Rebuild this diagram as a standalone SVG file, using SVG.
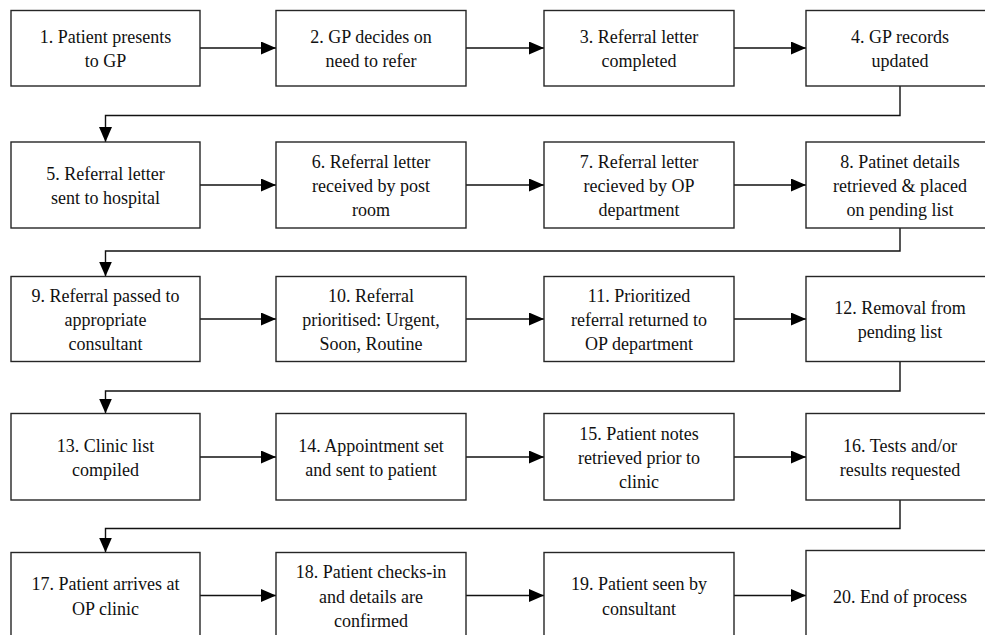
<svg xmlns="http://www.w3.org/2000/svg" width="985" height="635" viewBox="0 0 985 635">
  <style>
    .box { fill: #ffffff; stroke: #262626; stroke-width: 1.4; }
    .lbl { font-family: "Liberation Serif", "DejaVu Serif Condensed", "DejaVu Serif", serif; font-stretch: condensed; font-size: 18px; fill: #111111; text-anchor: middle; }
    .wire { fill: none; stroke: #111111; stroke-width: 1.4; }
  </style>
  <defs>
    <marker id="head" markerUnits="userSpaceOnUse" markerWidth="15" markerHeight="13" refX="15" refY="6.5" orient="auto">
      <path d="M0,0 L15,6.5 L0,13 Z" fill="#000000"/>
    </marker>
  </defs>
  <rect width="985" height="635" fill="#ffffff"/>

  <!-- connectors -->
  <g id="connectors">
    <!-- row 1 -->
    <path class="wire" d="M200,48 H276" marker-end="url(#head)"/>
    <path class="wire" d="M466,48 H544" marker-end="url(#head)"/>
    <path class="wire" d="M734,48 H806" marker-end="url(#head)"/>
    <path class="wire" d="M900,86 V115.5 H105.5 V142" marker-end="url(#head)"/>
    <!-- row 2 -->
    <path class="wire" d="M200,185 H276" marker-end="url(#head)"/>
    <path class="wire" d="M466,185 H544" marker-end="url(#head)"/>
    <path class="wire" d="M734,185 H806" marker-end="url(#head)"/>
    <path class="wire" d="M900,228 V251 H105.5 V276.5" marker-end="url(#head)"/>
    <!-- row 3 -->
    <path class="wire" d="M200,319 H276" marker-end="url(#head)"/>
    <path class="wire" d="M466,319 H544" marker-end="url(#head)"/>
    <path class="wire" d="M734,319 H806" marker-end="url(#head)"/>
    <path class="wire" d="M900,361.5 V391 H105.5 V413.5" marker-end="url(#head)"/>
    <!-- row 4 -->
    <path class="wire" d="M200,457 H276" marker-end="url(#head)"/>
    <path class="wire" d="M466,457 H544" marker-end="url(#head)"/>
    <path class="wire" d="M734,457 H806" marker-end="url(#head)"/>
    <path class="wire" d="M900,500 V528.5 H105.5 V552.5" marker-end="url(#head)"/>
    <!-- row 5 -->
    <path class="wire" d="M200,595.5 H276" marker-end="url(#head)"/>
    <path class="wire" d="M466,595.5 H544" marker-end="url(#head)"/>
    <path class="wire" d="M734,595.5 H806" marker-end="url(#head)"/>
  </g>

  <!-- row 1 -->
  <g id="step1">
    <rect class="box" x="11" y="10.5" width="189" height="75.5"/>
    <text class="lbl" x="105.5" y="42.7">1. Patient presents</text>
    <text class="lbl" x="105.5" y="67">to GP</text>
  </g>
  <g id="step2">
    <rect class="box" x="276" y="10.5" width="190" height="75.5"/>
    <text class="lbl" x="371" y="42.7">2. GP decides on</text>
    <text class="lbl" x="371" y="67">need to refer</text>
  </g>
  <g id="step3">
    <rect class="box" x="544" y="10.5" width="190" height="75.5"/>
    <text class="lbl" x="639" y="42.7">3. Referral letter</text>
    <text class="lbl" x="639" y="67">completed</text>
  </g>
  <g id="step4">
    <rect class="box" x="806" y="10.5" width="188" height="75.5"/>
    <text class="lbl" x="900" y="42.7">4. GP records</text>
    <text class="lbl" x="900" y="67">updated</text>
  </g>

  <!-- row 2 -->
  <g id="step5">
    <rect class="box" x="11" y="142" width="189" height="86"/>
    <text class="lbl" x="105.5" y="179.8">5. Referral letter</text>
    <text class="lbl" x="105.5" y="204.1">sent to hospital</text>
  </g>
  <g id="step6">
    <rect class="box" x="276" y="142" width="190" height="86"/>
    <text class="lbl" x="371" y="167.7">6. Referral letter</text>
    <text class="lbl" x="371" y="192">received by post</text>
    <text class="lbl" x="371" y="216.3">room</text>
  </g>
  <g id="step7">
    <rect class="box" x="544" y="142" width="190" height="86"/>
    <text class="lbl" x="639" y="167.7">7. Referral letter</text>
    <text class="lbl" x="639" y="192">recieved by OP</text>
    <text class="lbl" x="639" y="216.3">department</text>
  </g>
  <g id="step8">
    <rect class="box" x="806" y="142" width="188" height="86"/>
    <text class="lbl" x="900" y="167.7">8. Patinet details</text>
    <text class="lbl" x="900" y="192">retrieved &amp; placed</text>
    <text class="lbl" x="900" y="216.3">on pending list</text>
  </g>

  <!-- row 3 -->
  <g id="step9">
    <rect class="box" x="11" y="276.5" width="189" height="85"/>
    <text class="lbl" x="105.5" y="301.7">9. Referral passed to</text>
    <text class="lbl" x="105.5" y="326">appropriate</text>
    <text class="lbl" x="105.5" y="350.3">consultant</text>
  </g>
  <g id="step10">
    <rect class="box" x="276" y="276.5" width="190" height="85"/>
    <text class="lbl" x="371" y="301.7">10. Referral</text>
    <text class="lbl" x="371" y="326">prioritised: Urgent,</text>
    <text class="lbl" x="371" y="350.3">Soon, Routine</text>
  </g>
  <g id="step11">
    <rect class="box" x="544" y="276.5" width="190" height="85"/>
    <text class="lbl" x="639" y="301.7">11. Prioritized</text>
    <text class="lbl" x="639" y="326">referral returned to</text>
    <text class="lbl" x="639" y="350.3">OP department</text>
  </g>
  <g id="step12">
    <rect class="box" x="806" y="276.5" width="188" height="85"/>
    <text class="lbl" x="900" y="313.8">12. Removal from</text>
    <text class="lbl" x="900" y="338.1">pending list</text>
  </g>

  <!-- row 4 -->
  <g id="step13">
    <rect class="box" x="11" y="413.5" width="189" height="86.5"/>
    <text class="lbl" x="105.5" y="451.8">13. Clinic list</text>
    <text class="lbl" x="105.5" y="476.1">compiled</text>
  </g>
  <g id="step14">
    <rect class="box" x="276" y="413.5" width="190" height="86.5"/>
    <text class="lbl" x="371" y="451.8">14. Appointment set</text>
    <text class="lbl" x="371" y="476.1">and sent to patient</text>
  </g>
  <g id="step15">
    <rect class="box" x="544" y="413.5" width="190" height="86.5"/>
    <text class="lbl" x="639" y="439.7">15. Patient notes</text>
    <text class="lbl" x="639" y="464">retrieved prior to</text>
    <text class="lbl" x="639" y="488.3">clinic</text>
  </g>
  <g id="step16">
    <rect class="box" x="806" y="413.5" width="188" height="86.5"/>
    <text class="lbl" x="900" y="451.8">16. Tests and/or</text>
    <text class="lbl" x="900" y="476.1">results requested</text>
  </g>

  <!-- row 5 -->
  <g id="step17">
    <rect class="box" x="11" y="552.5" width="189" height="86"/>
    <text class="lbl" x="105.5" y="590.3">17. Patient arrives at</text>
    <text class="lbl" x="105.5" y="614.6">OP clinic</text>
  </g>
  <g id="step18">
    <rect class="box" x="276" y="552.5" width="190" height="86"/>
    <text class="lbl" x="371" y="578.2">18. Patient checks-in</text>
    <text class="lbl" x="371" y="602.5">and details are</text>
    <text class="lbl" x="371" y="626.8">confirmed</text>
  </g>
  <g id="step19">
    <rect class="box" x="544" y="552.5" width="190" height="86"/>
    <text class="lbl" x="639" y="590.3">19. Patient seen by</text>
    <text class="lbl" x="639" y="614.6">consultant</text>
  </g>
  <g id="step20">
    <rect class="box" x="806" y="550.5" width="188" height="90"/>
    <text class="lbl" x="900" y="602.5">20. End of process</text>
  </g>
</svg>
